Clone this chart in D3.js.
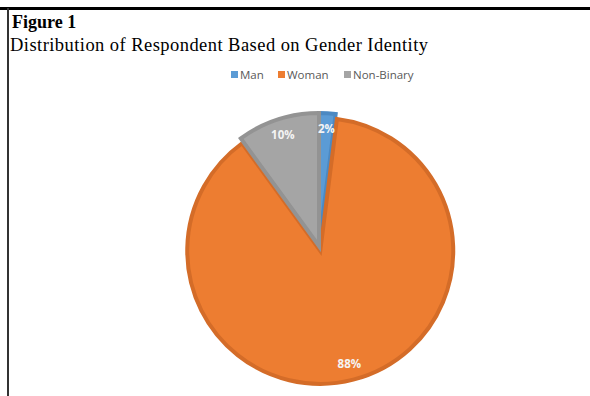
<!DOCTYPE html>
<html>
<head>
<meta charset="utf-8">
<script src="https://cdn.jsdelivr.net/npm/d3@7"></script>
<style>
  body { margin: 0; background: #fff; }
  svg { display: block; }
</style>
</head>
<body>
<svg id="chart" width="590" height="396"></svg>
<script>
const categories = ['Man', 'Woman', 'Non-Binary'];
const shares = [2, 88, 10];
const fills = ['#5B9BD5', '#ED7D31', '#A5A5A5'];
const strokes = ['#4C89C2', '#D46C28', '#939393'];

const width = 590, height = 396;
const cx = 319, cy = 246, radius = 135;
const explode = { 'Woman': 5 };

const svg = d3.select('#chart');

// frame lines
svg.append('line')
    .attr('x1', 0).attr('x2', width)
    .attr('y1', 8.5).attr('y2', 8.5)
    .attr('stroke', '#000').attr('stroke-width', 3);
svg.append('line')
    .attr('x1', 8).attr('x2', 8)
    .attr('y1', 8).attr('y2', height)
    .attr('stroke', '#333').attr('stroke-width', 2);

// titles
svg.append('text')
    .attr('x', 12).attr('y', 28)
    .attr('font-family', '"Liberation Serif", "Times New Roman", serif')
    .attr('font-weight', 'bold')
    .attr('font-size', 18)
    .text('Figure 1');
svg.append('text')
    .attr('x', 10).attr('y', 51)
    .attr('font-family', '"Liberation Serif", "Times New Roman", serif')
    .attr('font-size', 18.5)
    .attr('textLength', 418)
    .attr('lengthAdjust', 'spacing')
    .text('Distribution of Respondent Based on Gender Identity');

// legend
const legendX = [231, 278, 344];
const legend = svg.append('g').attr('class', 'legend');
const items = legend.selectAll('g')
    .data(categories)
    .enter().append('g')
    .attr('transform', (d, i) => `translate(${legendX[i]},75)`);
items.append('rect')
    .attr('x', 0).attr('y', -4)
    .attr('width', 7).attr('height', 7)
    .attr('fill', (d, i) => fills[i]);
items.append('text')
    .attr('x', 9).attr('y', 0)
    .attr('dy', '0.35em')
    .attr('font-family', '"Open Sans", "Liberation Sans", sans-serif')
    .attr('font-size', 11.5)
    .attr('fill', '#595959')
    .text(d => d);

// pie
const data = categories.map((c, i) => ({ name: c, value: shares[i], idx: i }));
const pie = d3.pie().sort(null).value(d => d.value);
const sliceArc = d3.arc().innerRadius(0).outerRadius(radius - 2);
const labelArc = d3.arc().innerRadius(117).outerRadius(117);

const arcs = pie(data);

function offset(d) {
    const e = explode[d.data.name] || 0;
    const a = (d.startAngle + d.endAngle) / 2;
    return [e * Math.sin(a), -e * Math.cos(a)];
}

const g = svg.append('g')
    .attr('transform', `translate(${cx},${cy})`);

g.selectAll('.slice')
    .data(arcs)
    .enter().append('path')
    .attr('class', 'slice')
    .attr('transform', d => `translate(${offset(d)})`)
    .attr('d', sliceArc)
    .attr('fill', d => fills[d.data.idx])
    .attr('stroke', d => strokes[d.data.idx])
    .attr('stroke-width', 4);

// labels on top of every slice
g.selectAll('.label')
    .data(arcs)
    .enter().append('text')
    .attr('class', 'label')
    .attr('transform', d => {
        const c = labelArc.centroid(d), o = offset(d);
        return `translate(${c[0] + o[0]},${c[1] + o[1]})`;
    })
    .attr('text-anchor', 'middle')
    .attr('dy', '0.35em')
    .attr('font-family', '"Open Sans", "Liberation Sans", sans-serif')
    .attr('font-weight', 'bold')
    .attr('font-size', 11.5)
    .attr('fill', '#F4F4F4')
    .text(d => d.data.value + '%');
</script>
</body>
</html>
